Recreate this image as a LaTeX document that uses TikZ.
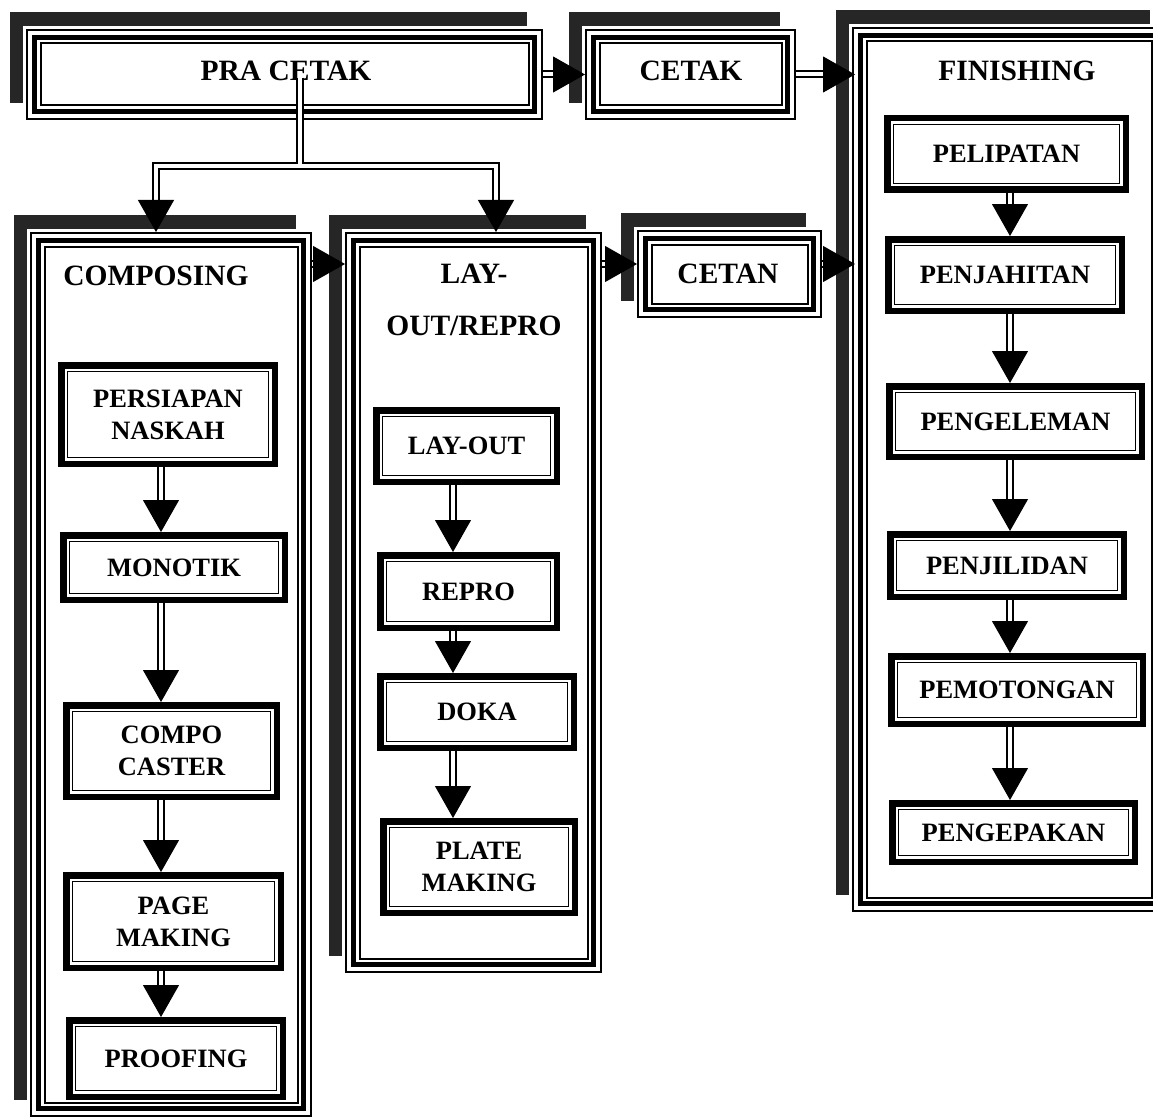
\documentclass[tikz,border=0pt]{standalone}
\usepackage{fontspec}
\setmainfont{Liberation Serif}
\usetikzlibrary{arrows.meta,calc}
\tikzset{
 shadowfill/.style={fill=black!85},
 halo/.style={fill=white},
 gthin/.style={draw=black, line width=2pt},
 gthick/.style={draw=black, line width=5pt},
 sthick/.style={draw=black, line width=6.5pt},
 sthin/.style={draw=black, line width=1.6pt},
 anchorbox/.style={rectangle, draw=none, inner sep=0pt, outer sep=0pt},
 titlefont/.style={font=\fontsize{29.5}{35}\selectfont\bfseries},
 stepfont/.style={font=\fontsize{26.5}{32}\selectfont\bfseries, align=center},
 shaft/.style={draw=black, double=white, double distance=4pt, line width=2pt, shorten >=30pt},
 tipline/.style={draw=white, line width=1pt, -{Triangle[width=36pt,length=32pt,color=black]}},
}
\newcommand\groupbox[5]{%
 \fill[shadowfill] ({#2-16},{#3-17}) rectangle ({#4-16},{#5-17});
 \fill[halo] ({#2-3},{#3-3}) rectangle ({#4+3},{#5+3});
 \draw[gthin] ({#2+1},{#3+1}) rectangle ({#4-1},{#5-1});
 \draw[gthick] ({#2+8.2},{#3+8.2}) rectangle ({#4-8.2},{#5-8.2});
 \draw[gthin] ({#2+14.5},{#3+14.5}) rectangle ({#4-14.5},{#5-14.5});
 \node[anchorbox, minimum width={#4-#2}, minimum height={#5-#3}] (#1) at ({(#2+#4)/2},{(#3+#5)/2}) {};
}
\newcommand\stepbox[6]{%
 \draw[sthick] ({#2+3.25},{#3+3.25}) rectangle ({#4-3.25},{#5-3.25});
 \draw[sthin] ({#2+9.6},{#3+9.6}) rectangle ({#4-9.6},{#5-9.6});
 \node[anchorbox, stepfont, minimum width={#4-#2}, minimum height={#5-#3}] (#1) at ({(#2+#4)/2},{(#3+#5)/2}) {#6};
}
\newcommand\conn[1]{\draw[shaft] #1; \draw[tipline] #1;}
\begin{document}
\begin{tikzpicture}[x=1pt,y=-1pt]
\useasboundingbox (0,0) rectangle (1153,1118);
% group boxes
\groupbox{pra}{26}{29}{543}{120}
\groupbox{cetak}{585}{29}{796}{120}
\groupbox{fin}{852}{27}{1166}{912}
\groupbox{comp}{30}{232}{312}{1117}
\groupbox{lay}{345}{232}{602}{973}
\groupbox{cetan}{637}{230}{822}{318}
% titles
\node[anchorbox, titlefont] (tpra) at (286,71) {PRA CETAK};
\node[anchorbox, titlefont] (tcetak) at (691,71) {CETAK};
\node[anchorbox, titlefont] (tfin) at (1017,71) {FINISHING};
\node[anchorbox, titlefont] (tcomp) at (156,276) {COMPOSING};
\node[anchorbox, titlefont, align=center] (tlay) at (474,300) {LAY-\\[17pt]OUT/REPRO};
\node[anchorbox, titlefont] (tcetan) at (728,274) {CETAN};
% composing steps
\stepbox{persiapan}{58}{362}{278}{467}{PERSIAPAN\\NASKAH}
\stepbox{monotik}{60}{532}{288}{603}{MONOTIK}
\stepbox{compo}{63}{702}{280}{800}{COMPO\\CASTER}
\stepbox{pagemk}{63}{872}{284}{971}{PAGE\\MAKING}
\stepbox{proof}{66}{1017}{286}{1100}{PROOFING}
% layout steps
\stepbox{layout}{373}{407}{560}{485}{LAY-OUT}
\stepbox{repro}{377}{552}{560}{631}{REPRO}
\stepbox{doka}{377}{673}{577}{751}{DOKA}
\stepbox{plate}{380}{818}{578}{916}{PLATE\\MAKING}
% finishing steps
\stepbox{lipat}{884}{115}{1129}{193}{PELIPATAN}
\stepbox{jahit}{885}{236}{1125}{314}{PENJAHITAN}
\stepbox{lem}{886}{383}{1145}{460}{PENGELEMAN}
\stepbox{jilid}{887}{531}{1127}{600}{PENJILIDAN}
\stepbox{potong}{888}{653}{1146}{727}{PEMOTONGAN}
\stepbox{pak}{889}{800}{1138}{865}{PENGEPAKAN}
% axes
\coordinate (axc) at (161,0);
\coordinate (axl) at (453,0);
\coordinate (axf) at (1010,0);
% tree from PRA CETAK
\coordinate (src) at (300,78);
\coordinate (junc) at (300,166);
\coordinate (brL) at (156,166);
\coordinate (brR) at (496,166);
\conn{(src) -- (junc) -- (brL) -- (brL |- comp.north)}
\conn{($(junc)+(2,0)$) -- (brR) -- (brR |- lay.north)}
% horizontal connectors
\conn{(pra.east) -- (cetak.west)}
\conn{(cetak.east) -- ($(cetak.east -| fin.west)+(3,0)$)}
\conn{($(comp.north east)+(0,32)$) -- ($(comp.north east -| lay.west)+(0,32)$)}
\conn{($(lay.north east)+(0,32)$) -- ($(lay.north east -| cetan.west)+(0,32)$)}
\conn{($(lay.north east -| cetan.east)+(0,32)$) -- ($(lay.north east -| fin.west)+(3,32)$)}
% vertical connectors
\conn{(persiapan.south -| axc) -- (monotik.north -| axc)}
\conn{(monotik.south -| axc) -- (compo.north -| axc)}
\conn{(compo.south -| axc) -- (pagemk.north -| axc)}
\conn{(pagemk.south -| axc) -- (proof.north -| axc)}
\conn{(layout.south -| axl) -- (repro.north -| axl)}
\conn{(repro.south -| axl) -- (doka.north -| axl)}
\conn{(doka.south -| axl) -- (plate.north -| axl)}
\conn{(lipat.south -| axf) -- (jahit.north -| axf)}
\conn{(jahit.south -| axf) -- (lem.north -| axf)}
\conn{(lem.south -| axf) -- (jilid.north -| axf)}
\conn{(jilid.south -| axf) -- (potong.north -| axf)}
\conn{(potong.south -| axf) -- (pak.north -| axf)}
\end{tikzpicture}
\end{document}
